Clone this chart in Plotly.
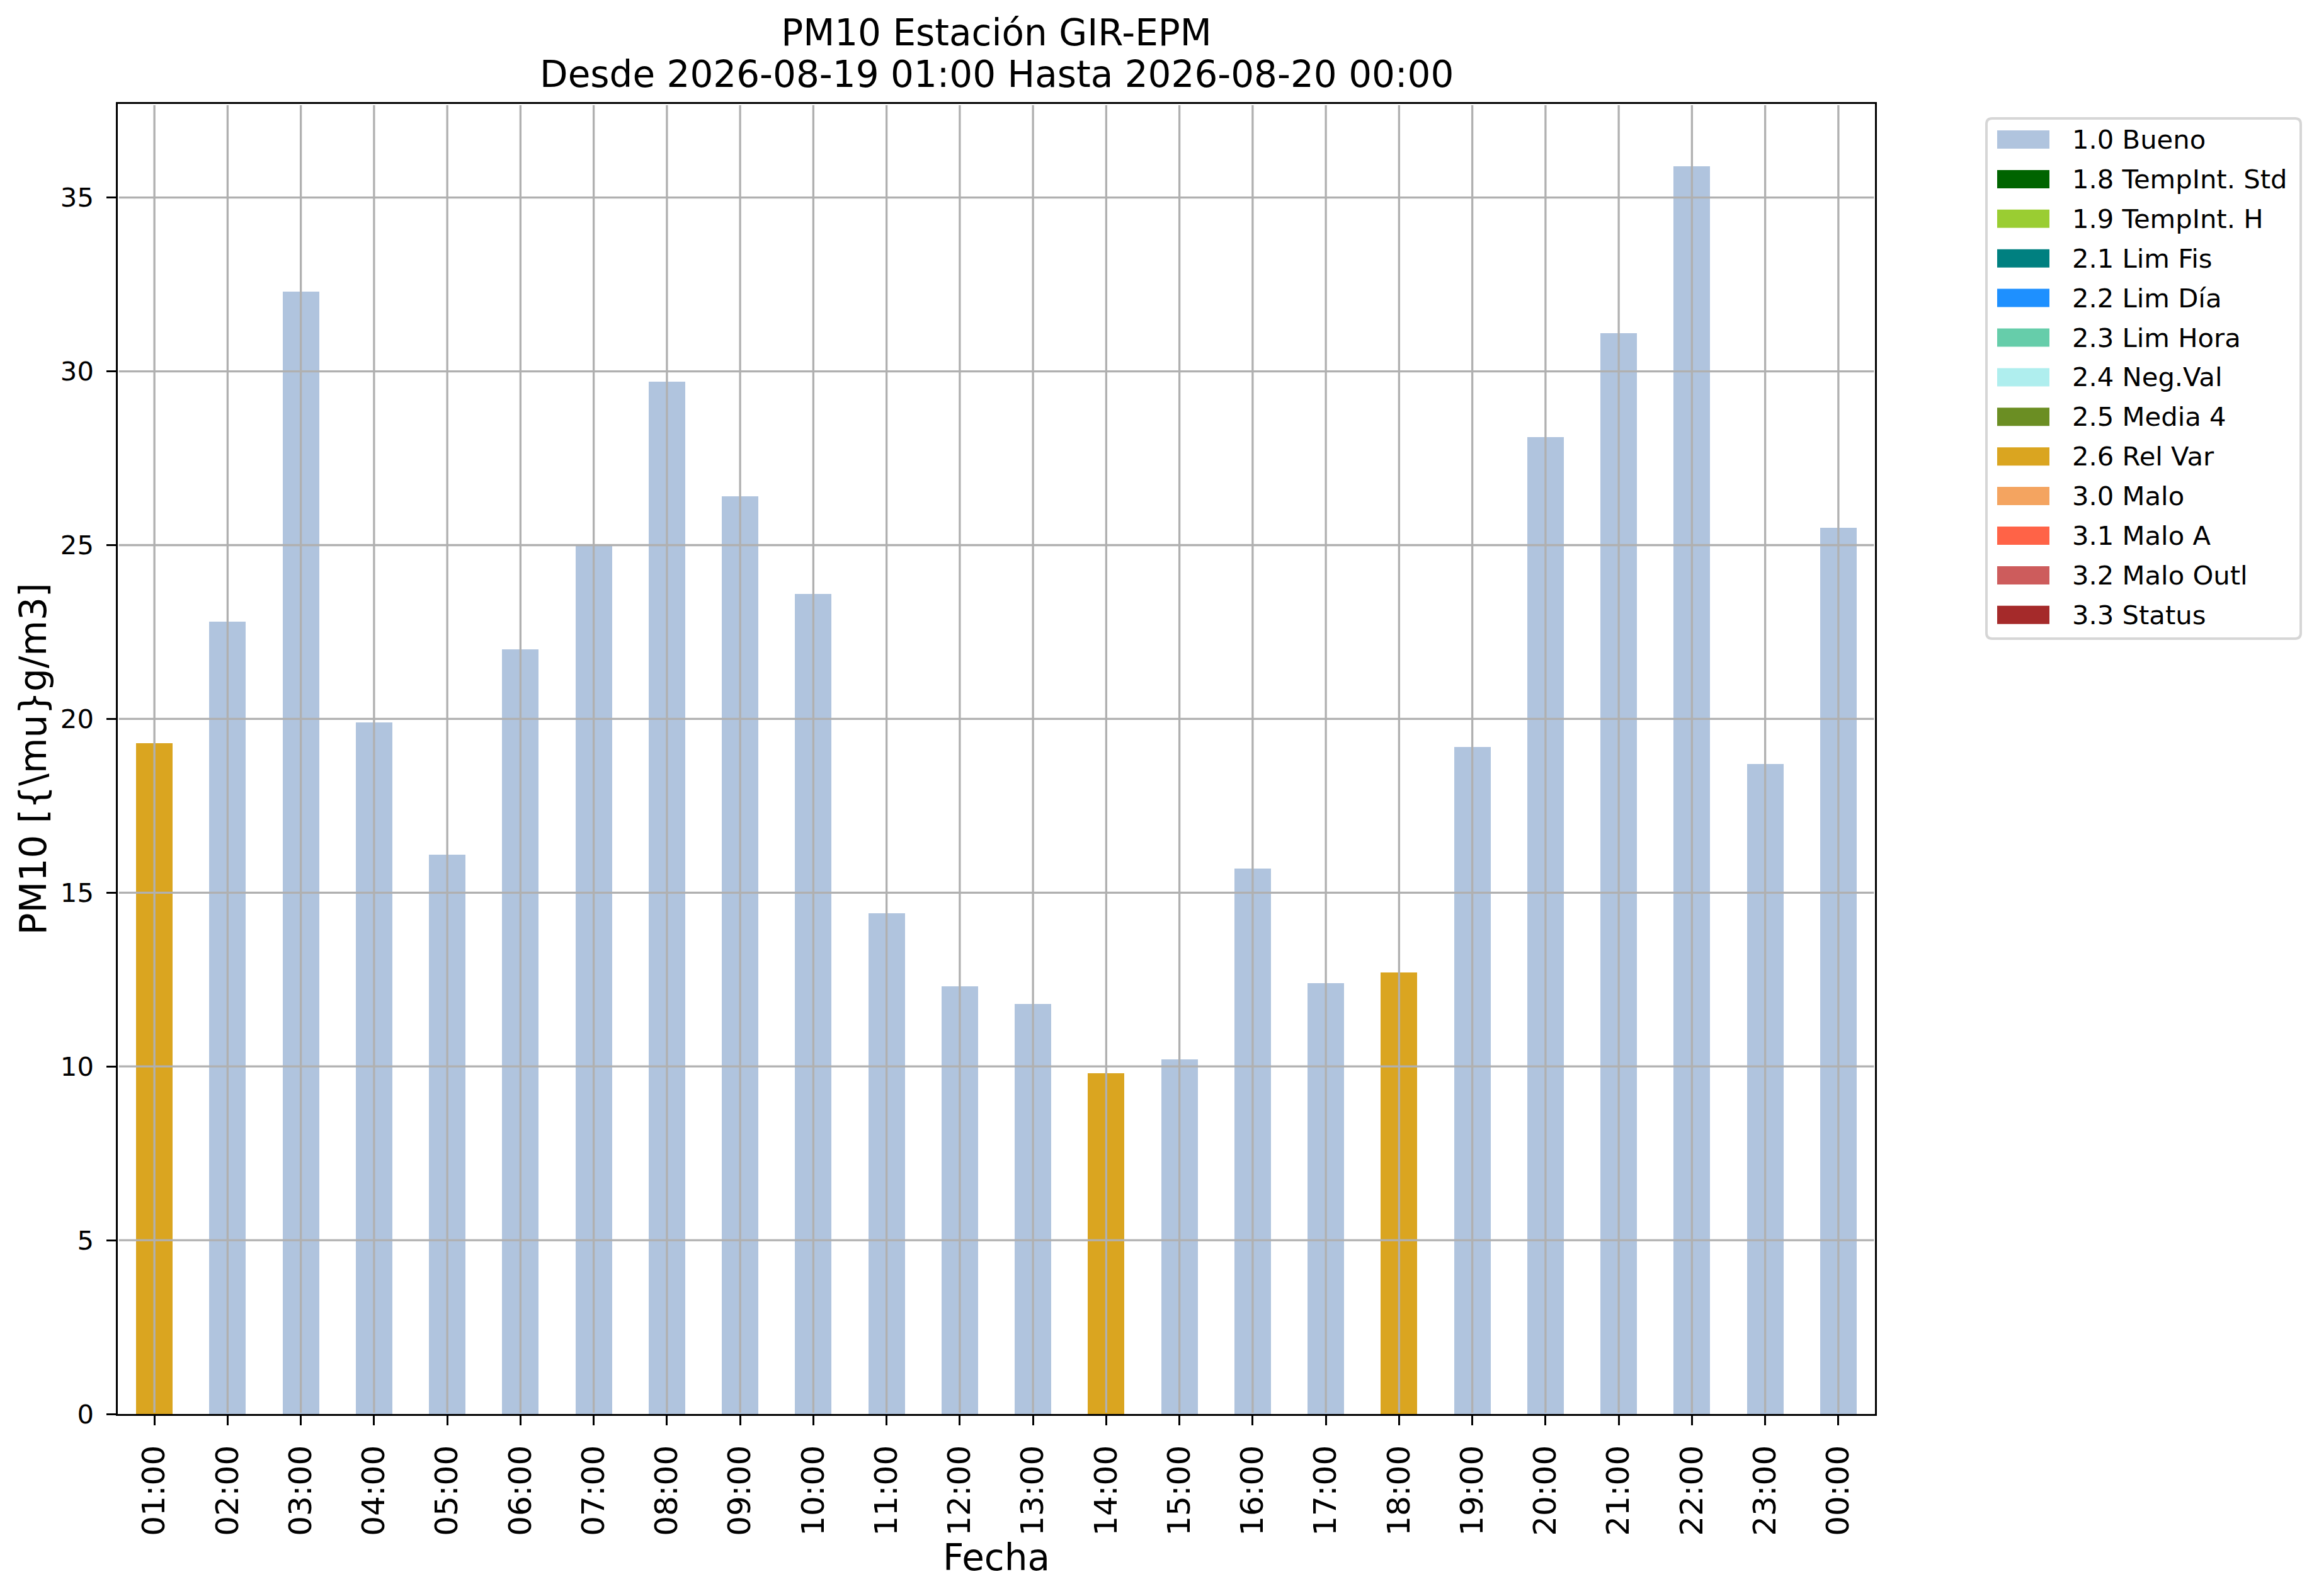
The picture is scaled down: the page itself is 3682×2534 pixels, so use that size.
import plotly.graph_objects as go

# hourly PM10 values and their quality flag
hours = ['01:00', '02:00', '03:00', '04:00', '05:00', '06:00', '07:00', '08:00',
         '09:00', '10:00', '11:00', '12:00', '13:00', '14:00', '15:00', '16:00',
         '17:00', '18:00', '19:00', '20:00', '21:00', '22:00', '23:00', '00:00']
pm10 = [19.3, 22.8, 32.3, 19.9, 16.1, 22.0, 25.0, 29.7, 26.4, 23.6, 14.4, 12.3,
        11.8, 9.8, 10.2, 15.7, 12.4, 12.7, 19.2, 28.1, 31.1, 35.9, 18.7, 25.5]
flags = ['2.6 Rel Var', '1.0 Bueno', '1.0 Bueno', '1.0 Bueno', '1.0 Bueno', '1.0 Bueno',
         '1.0 Bueno', '1.0 Bueno', '1.0 Bueno', '1.0 Bueno', '1.0 Bueno', '1.0 Bueno',
         '1.0 Bueno', '2.6 Rel Var', '1.0 Bueno', '1.0 Bueno', '1.0 Bueno', '2.6 Rel Var',
         '1.0 Bueno', '1.0 Bueno', '1.0 Bueno', '1.0 Bueno', '1.0 Bueno', '1.0 Bueno']

flag_names = ['1.0 Bueno', '1.8 TempInt. Std', '1.9 TempInt. H', '2.1 Lim Fis',
              '2.2 Lim Día', '2.3 Lim Hora', '2.4 Neg.Val', '2.5 Media 4',
              '2.6 Rel Var', '3.0 Malo', '3.1 Malo A', '3.2 Malo Outl', '3.3 Status']
flag_colors = ['#B0C4DE', '#006400', '#9ACD32', '#008080', '#1E90FF', '#66CDAA',
               '#AFEEEE', '#6B8E23', '#DAA520', '#F4A460', '#FF6347', '#CD5C5C', '#A52A2A']
y_ticks = [0, 5, 10, 15, 20, 25, 30, 35]

title_1 = 'PM10 Estación GIR-EPM'
title_2 = 'Desde 2026-08-19 01:00 Hasta 2026-08-20 00:00'

# figure / axes box in pixels
W, H = 3682, 2534
L, R, T, B = 187, 2977, 165, 2245


def px(x):
    return (x - L) / (R - L)


def py(y):
    return (B - y) / (B - T)


fig = go.Figure()
for name, color in zip(flag_names, flag_colors):
    fig.add_trace(go.Bar(
        x=hours,
        y=[v if f == name else None for v, f in zip(pm10, flags)],
        name=name, marker_color=color, marker_line_width=0, showlegend=False))

# grid drawn over the bars, like matplotlib
grid = dict(color='#b0b0b0', width=3.3)
for h in hours:
    fig.add_shape(type='line', xref='x', yref='paper', x0=h, x1=h, y0=0.001, y1=0.999,
                  line=grid, layer='above')
for v in y_ticks[1:]:
    fig.add_shape(type='line', xref='paper', yref='y', x0=0.0006, x1=0.9994, y0=v, y1=v,
                  line=grid, layer='above')

# legend box (matplotlib style)
bx0, bx1, by0, by1, r = 3154, 3653, 188, 1014, 9
pts = [('M', bx0 + r, by0), ('L', bx1 - r, by0), ('Q', bx1, by0, bx1, by0 + r),
       ('L', bx1, by1 - r), ('Q', bx1, by1, bx1 - r, by1), ('L', bx0 + r, by1),
       ('Q', bx0, by1, bx0, by1 - r), ('L', bx0, by0 + r), ('Q', bx0, by0, bx0 + r, by0)]
path = ''
for p in pts:
    coords = p[1:]
    s = ' '.join(f'{px(coords[i]):.5f},{py(coords[i + 1]):.5f}' for i in range(0, len(coords), 2))
    path += f'{p[0]}{s} '
fig.add_shape(type='path', xref='paper', yref='paper', path=path + 'Z',
              fillcolor='white', line=dict(color='#d6d6d6', width=4), layer='above')

row0, step = 207, 62.9
for i, (name, color) in enumerate(zip(flag_names, flag_colors)):
    top = row0 + i * step
    fig.add_shape(type='rect', xref='paper', yref='paper',
                  x0=px(3171), x1=px(3254), y0=py(top + 29), y1=py(top),
                  fillcolor=color, line_width=0, layer='above')
    fig.add_annotation(xref='paper', yref='paper', x=px(3288), y=py(top + 14.5),
                       text=name, showarrow=False, xanchor='left', yanchor='middle',
                       font=dict(family='DejaVu Sans', size=41.7, color='black'))

# second title line, placed with matplotlib's tighter line spacing
fig.add_annotation(xref='paper', yref='paper', x=0.5, y=py(118), text=title_2,
                   showarrow=False, xanchor='center', yanchor='middle',
                   font=dict(family='DejaVu Sans', size=58, color='black'))

axis_common = dict(showline=True, linecolor='black', linewidth=3.3, mirror=True,
                   ticks='outside', ticklen=14.6, tickwidth=3.3, tickcolor='black',
                   showgrid=False, zeroline=False, layer='above traces')

fig.update_layout(
    width=W, height=H,
    barmode='stack', bargap=0.5,
    plot_bgcolor='white', paper_bgcolor='white',
    margin=dict(l=L, r=W - R, t=T, b=H - B, autoexpand=False),
    font=dict(family='DejaVu Sans', color='black'),
    title=dict(text=title_1, x=0.5, xref='paper', xanchor='center',
               y=1 - 52 / H, yref='container', yanchor='middle',
               font=dict(family='DejaVu Sans', size=58, color='black')),
    xaxis=dict(axis_common, tickangle=-90, tickfont=dict(size=50),
               range=[-0.5, len(hours) - 0.5], ticklabelstandoff=12,
               title=dict(text='Fecha', font=dict(size=58), standoff=6)),
    yaxis=dict(axis_common, tickvals=y_ticks, tickfont=dict(size=41.7),
               range=[0, max(pm10) * 1.05], ticklabelstandoff=12,
               title=dict(text='PM10 [{\\mu}g/m3]', font=dict(size=58), standoff=4)),
)

fig.write_html('out.html', config={'displayModeBar': False},
               post_script="document.body.style.margin='0';")
